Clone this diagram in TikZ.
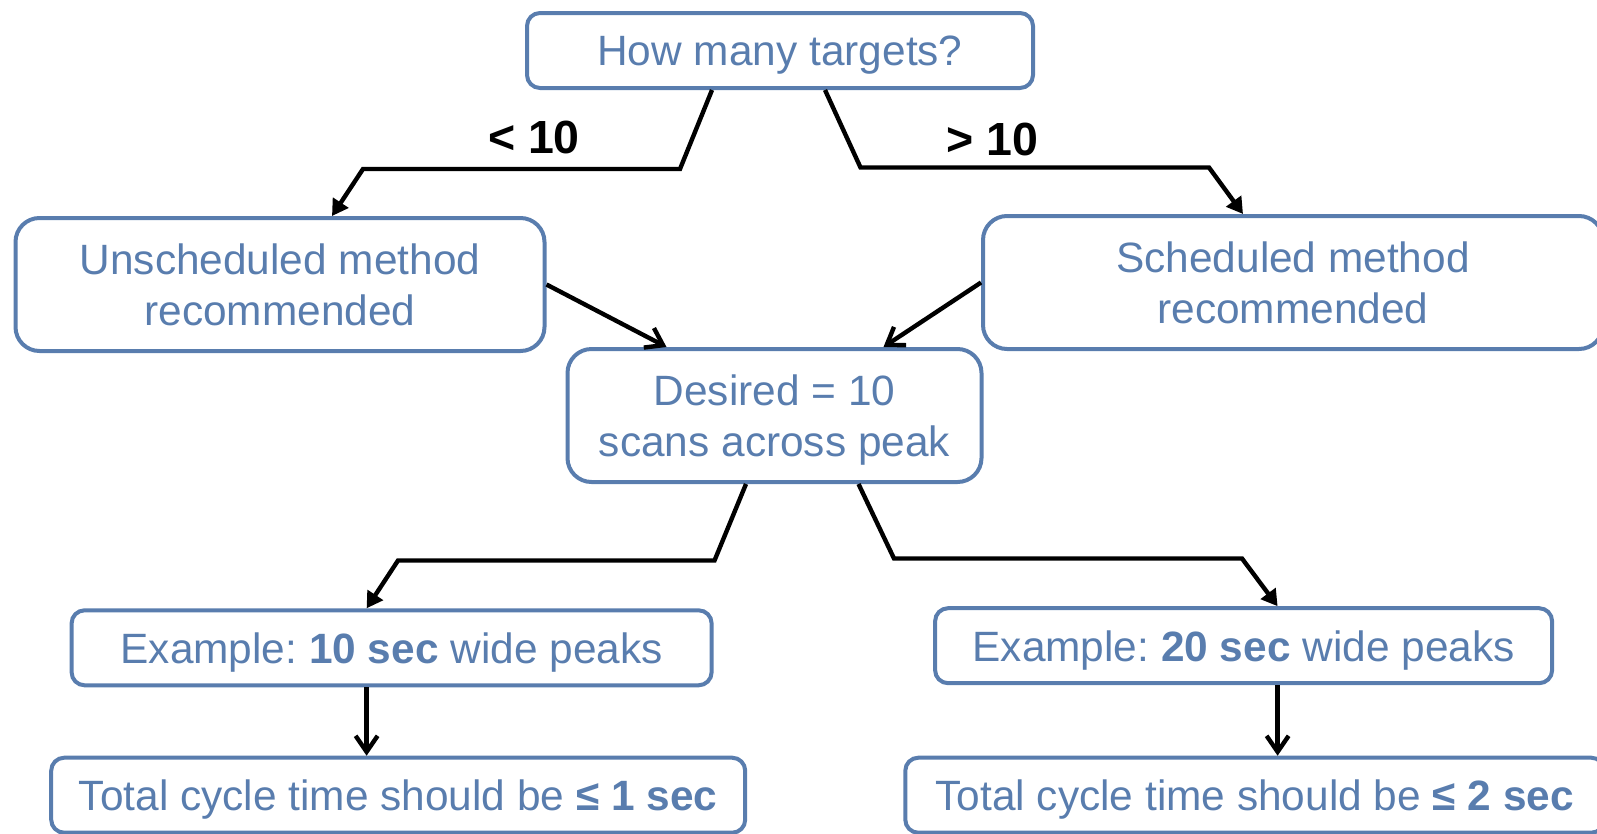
\documentclass[tikz,border=0pt]{standalone}
\usepackage{fontspec}
\setmainfont{Liberation Sans}
\usetikzlibrary{arrows.meta}
\definecolor{boxblue}{RGB}{89,125,174}
\tikzstyle{box}=[draw=boxblue,line width=4pt,rounded corners=13pt,text=boxblue,align=center,inner sep=0pt,text depth=0pt,font=\fontsize{42.4}{51}\selectfont\frenchspacing]
\tikzstyle{tall box}=[box,rounded corners=24pt,minimum height=133pt]
\tikzstyle{flat box}=[box,minimum height=75pt]
\tikzstyle{branch}=[font=\fontsize{46.5}{50}\selectfont\bfseries]
\tikzstyle{split edge}=[draw,line width=4.4pt,-{Triangle[length=16pt,width=18pt]}]
\tikzstyle{join edge}=[draw,line width=4.4pt,-{Straight Barb[length=16pt,width=22pt]}]

\begin{document}
\begin{tikzpicture}[x=1pt,y=-1pt]
    \useasboundingbox (0,0) rectangle (1597,833);
    \clip (0,0) rectangle (1597,833);

    % question and the two methods
    \node[flat box,minimum width=506pt] (targets) at (780,50.5) {How many targets?};
    \node[tall box,minimum width=529pt] (unsched) at (280,284.5) {Unscheduled method\\recommended};
    \node[tall box,minimum width=620pt] (sched) at (1293,282.5) {Scheduled method\\recommended};
    \node[tall box,minimum width=414pt] (desired) at (774.5,415.5) {Desired = 10\\scans across peak};

    % examples and cycle times
    \node[flat box,minimum width=640pt] (ex10) at (391.6,647.8) {Example: {\bfseries 10 sec} wide peaks};
    \node[flat box,minimum width=617pt] (ex20) at (1243.6,645.7) {Example: {\bfseries 20 sec} wide peaks};
    \node[flat box,minimum width=694pt] (total1) at (398.2,795.2) {Total cycle time should be {\bfseries ≤ 1 sec}};
    \node[flat box,minimum width=699pt] (total2) at (1254.8,795.2) {Total cycle time should be {\bfseries ≤ 2 sec}};

    \node[branch] (fewer) at (534,137) {< 10};
    \node[branch] (more) at (992.5,139.5) {> 10};

    \path[split edge] ([xshift=-68pt]targets.south) -- (680,169) -- (363,169) -- ([xshift=52pt]unsched.north);
    \path[split edge] ([xshift=45pt]targets.south) -- (860.5,167.5) -- (1209,167.5) -- ([xshift=-50pt]sched.north);
    \path[join edge] (unsched.east) -- ([xshift=-108pt]desired.north);
    \path[join edge] (sched.west) -- ([xshift=109pt]desired.north);

    \path[split edge] ([xshift=-28.5pt]desired.south) -- (714.5,560.5) -- (398,560.5) -- ([xshift=-25pt]ex10.north);
    \path[split edge] ([xshift=84pt]desired.south) -- (894,558.5) -- (1242,558.5) -- ([xshift=34pt]ex20.north);

    \foreach \src/\dst/\dx in {ex10/total1/-25, ex20/total2/34}
        \path[join edge] ([xshift=\dx pt]\src.south) -- ([xshift=\dx pt]\src.south |- \dst.north);

\end{tikzpicture}
\end{document}
